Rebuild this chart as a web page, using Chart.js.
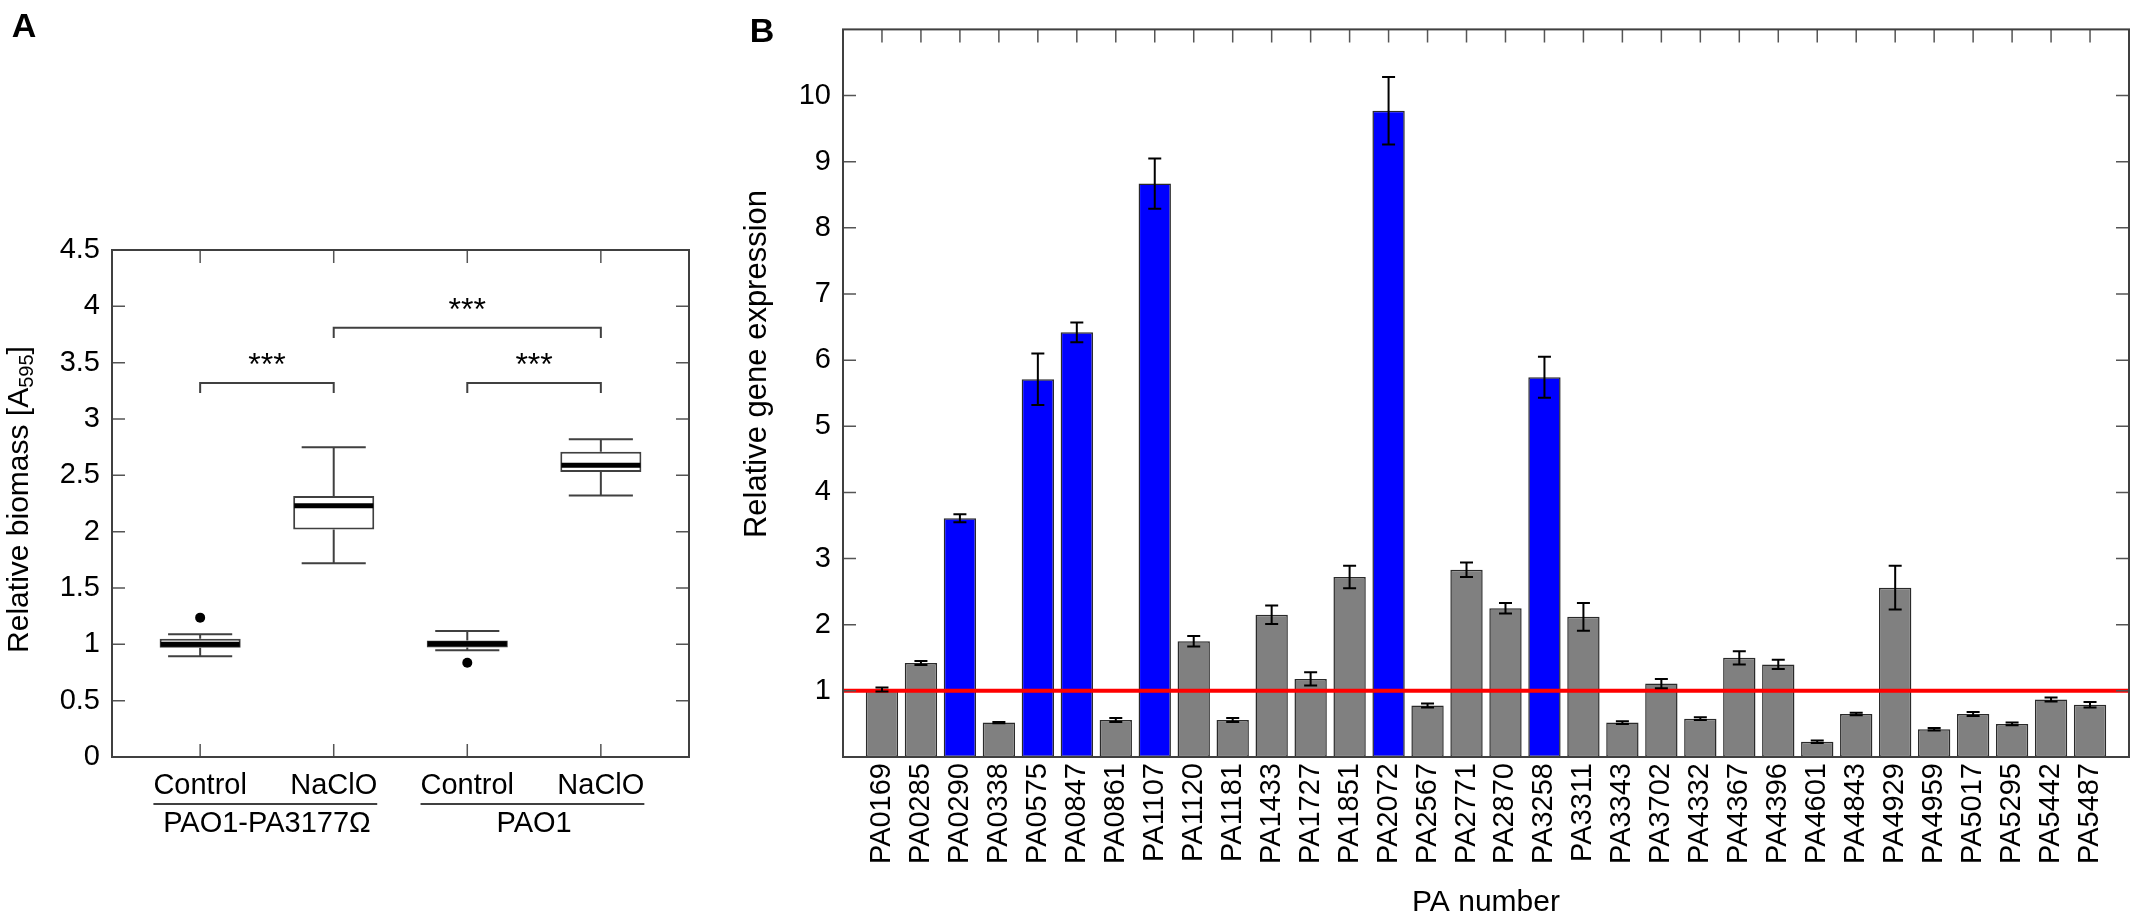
<!DOCTYPE html>
<html>
<head>
<meta charset="utf-8">
<script src="https://cdn.jsdelivr.net/npm/chart.js@4/dist/chart.umd.min.js"></script>
<style>
  html, body { margin: 0; padding: 0; background: #fff; }
  #wrapA { position: absolute; left: 0; top: 0; }
  #wrapB { position: absolute; left: 720px; top: 0; }
</style>
</head>
<body>
<div id="wrapA"><canvas id="chartA" width="720" height="921"></canvas></div>
<div id="wrapB"><canvas id="chartB" width="1416" height="921"></canvas></div>
<script>
const FONT = "'Liberation Sans', Arial, Helvetica, sans-serif";
Chart.defaults.font.family = FONT;
Chart.defaults.font.size = 29;
Chart.defaults.color = "#000";

// panel A - relative biomass, box plots
const boxLabels = ["Control", "NaClO", "Control", "NaClO"];
const strainLabels = ["PAO1-PA3177Ω", "PAO1"];
const boxMin = [0.895, 1.72, 0.947, 2.32];
const boxQ1 = [0.97, 2.02, 0.973, 2.53];
const boxMedian = [1.0, 2.23, 1.005, 2.59];
const boxQ3 = [1.05, 2.317, 1.035, 2.71];
const boxMax = [1.09, 2.75, 1.118, 2.82];
const outlierX = [1, 3];
const outlierY = [1.237, 0.837];
const bracketFrom = [1, 2, 3];
const bracketTo = [2, 4, 4];
const bracketY = [3.32, 3.81, 3.32];
const bracketText = ["***", "***", "***"];
const biomassTicks = [0, 0.5, 1, 1.5, 2, 2.5, 3, 3.5, 4, 4.5];

// panel B - relative gene expression
const genes = ["PA0169", "PA0285", "PA0290", "PA0338", "PA0575", "PA0847", "PA0861", "PA1107",
  "PA1120", "PA1181", "PA1433", "PA1727", "PA1851", "PA2072", "PA2567", "PA2771",
  "PA2870", "PA3258", "PA3311", "PA3343", "PA3702", "PA4332", "PA4367", "PA4396",
  "PA4601", "PA4843", "PA4929", "PA4959", "PA5017", "PA5295", "PA5442", "PA5487"];
const expression = [1.02, 1.42, 3.61, 0.52, 5.71, 6.42, 0.56, 8.67,
  1.75, 0.56, 2.15, 1.18, 2.72, 9.77, 0.78, 2.83,
  2.25, 5.74, 2.12, 0.52, 1.11, 0.58, 1.5, 1.4,
  0.23, 0.65, 2.56, 0.42, 0.65, 0.5, 0.87, 0.79];
const expressionErr = [0.03, 0.03, 0.06, 0.01, 0.39, 0.15, 0.03, 0.38,
  0.08, 0.03, 0.14, 0.1, 0.17, 0.51, 0.03, 0.11,
  0.08, 0.31, 0.21, 0.02, 0.07, 0.02, 0.1, 0.07,
  0.02, 0.02, 0.33, 0.02, 0.03, 0.02, 0.03, 0.04];
const upregulated = ["PA0290", "PA0575", "PA0847", "PA1107", "PA2072", "PA3258"];
const expressionTicks = [1, 2, 3, 4, 5, 6, 7, 8, 9, 10];
const baseline = 1;

// frame with inward ticks on all sides
const frame = {
  id: "frame",
  afterDatasetsDraw(chart, args, opts) {
    const { ctx, chartArea: a, scales: { x, y } } = chart;
    const len = 13;
    ctx.save();
    ctx.strokeStyle = "#555";
    ctx.lineWidth = 1.5;
    ctx.beginPath();
    opts.xTicks.forEach(v => {
      const px = x.getPixelForValue(v);
      ctx.moveTo(px, a.top); ctx.lineTo(px, a.top + len);
      if (opts.bottomTicks) { ctx.moveTo(px, a.bottom); ctx.lineTo(px, a.bottom - len); }
    });
    opts.yTicks.forEach(v => {
      const py = y.getPixelForValue(v);
      ctx.moveTo(a.left, py); ctx.lineTo(a.left + len, py);
      ctx.moveTo(a.right, py); ctx.lineTo(a.right - len, py);
    });
    ctx.stroke();
    ctx.strokeStyle = "#404040";
    ctx.lineWidth = 2;
    ctx.strokeRect(a.left, a.top, a.right - a.left, a.bottom - a.top);
    ctx.restore();
  }
};

// panel letter and optional rotated axis title
const panelText = {
  id: "panelText",
  afterDraw(chart, args, opts) {
    const ctx = chart.ctx;
    ctx.save();
    ctx.fillStyle = "#000";
    ctx.textAlign = "center";
    ctx.textBaseline = "middle";
    ctx.font = "bold 34px " + FONT;
    ctx.fillText(opts.letter, opts.letterX, opts.letterY);
    if (opts.title) {
      ctx.font = "31px " + FONT;
      ctx.translate(opts.titleX, opts.titleY);
      ctx.rotate(-Math.PI / 2);
      ctx.fillText(opts.title, 0, 0);
    }
    ctx.restore();
  }
};

// whiskers, medians, significance brackets and group labels
const boxExtras = {
  id: "boxExtras",
  afterDatasetsDraw(chart) {
    const { ctx, scales: { x, y } } = chart;
    const unit = x.getPixelForValue(2) - x.getPixelForValue(1);
    const boxHalf = unit * 0.607 / 2;
    const capHalf = unit * 0.24;
    ctx.save();
    boxMin.forEach((mn, i) => {
      const cx = x.getPixelForValue(i + 1);
      const yMax = y.getPixelForValue(boxMax[i]);
      const yMin = y.getPixelForValue(mn);
      ctx.strokeStyle = "#404040";
      ctx.lineWidth = 2;
      ctx.beginPath();
      ctx.moveTo(cx, y.getPixelForValue(boxQ3[i])); ctx.lineTo(cx, yMax);
      ctx.moveTo(cx, y.getPixelForValue(boxQ1[i])); ctx.lineTo(cx, yMin);
      ctx.moveTo(cx - capHalf, yMax); ctx.lineTo(cx + capHalf, yMax);
      ctx.moveTo(cx - capHalf, yMin); ctx.lineTo(cx + capHalf, yMin);
      ctx.stroke();
      ctx.strokeStyle = "#000";
      ctx.lineWidth = 5;
      ctx.beginPath();
      const ym = y.getPixelForValue(boxMedian[i]);
      ctx.moveTo(cx - boxHalf + 1, ym); ctx.lineTo(cx + boxHalf - 1, ym);
      ctx.stroke();
    });
    const leg = y.getPixelForValue(0) - y.getPixelForValue(0.09);
    ctx.font = "32px " + FONT;
    ctx.textAlign = "center";
    ctx.textBaseline = "alphabetic";
    ctx.fillStyle = "#000";
    bracketFrom.forEach((f, i) => {
      const x1 = x.getPixelForValue(f), x2 = x.getPixelForValue(bracketTo[i]);
      const yb = y.getPixelForValue(bracketY[i]);
      ctx.strokeStyle = "#404040";
      ctx.lineWidth = 2;
      ctx.beginPath();
      ctx.moveTo(x1, yb + leg); ctx.lineTo(x1, yb); ctx.lineTo(x2, yb); ctx.lineTo(x2, yb + leg);
      ctx.stroke();
      ctx.fillText(bracketText[i], (x1 + x2) / 2, yb - 8);
    });
    ctx.restore();
  },
  afterDraw(chart) {
    const { ctx, chartArea: a, scales: { x } } = chart;
    ctx.save();
    ctx.font = "29px " + FONT;
    ctx.fillStyle = "#000";
    ctx.strokeStyle = "#000";
    ctx.lineWidth = 1.5;
    strainLabels.forEach((s, g) => {
      const x1 = x.getPixelForValue(2 * g + 1), x2 = x.getPixelForValue(2 * g + 2);
      const l = x1 - ctx.measureText(boxLabels[2 * g]).width / 2;
      const r = x2 + ctx.measureText(boxLabels[2 * g + 1]).width / 2;
      ctx.beginPath();
      ctx.moveTo(l, a.bottom + 47); ctx.lineTo(r, a.bottom + 47);
      ctx.stroke();
      ctx.textAlign = "center";
      ctx.textBaseline = "middle";
      ctx.fillText(s, (x1 + x2) / 2, a.bottom + 67);
    });
    // y title with subscript
    const main = "Relative biomass [A", sub = "595", end = "]";
    ctx.font = "30px " + FONT;
    const wMain = ctx.measureText(main).width, wEnd = ctx.measureText(end).width;
    ctx.font = "20px " + FONT;
    const wSub = ctx.measureText(sub).width;
    const total = wMain + wSub + wEnd;
    ctx.translate(20, (a.top + a.bottom) / 2 - 4);
    ctx.rotate(-Math.PI / 2);
    ctx.textAlign = "left";
    ctx.textBaseline = "middle";
    ctx.font = "30px " + FONT;
    ctx.fillText(main, -total / 2, 0);
    ctx.font = "20px " + FONT;
    ctx.fillText(sub, -total / 2 + wMain, 7);
    ctx.font = "30px " + FONT;
    ctx.fillText(end, -total / 2 + wMain + wSub, 0);
    ctx.restore();
  }
};

const errorBars = {
  id: "errorBars",
  afterDatasetsDraw(chart) {
    const { ctx, scales: { x, y } } = chart;
    ctx.save();
    ctx.strokeStyle = "#000";
    ctx.lineWidth = 2;
    ctx.beginPath();
    expression.forEach((v, i) => {
      const px = x.getPixelForValue(i + 1);
      const hi = y.getPixelForValue(v + expressionErr[i]);
      const lo = y.getPixelForValue(v - expressionErr[i]);
      ctx.moveTo(px, hi); ctx.lineTo(px, lo);
      ctx.moveTo(px - 6.5, hi); ctx.lineTo(px + 6.5, hi);
      ctx.moveTo(px - 6.5, lo); ctx.lineTo(px + 6.5, lo);
    });
    ctx.stroke();
    ctx.restore();
  }
};

const hidden = { display: false, drawTicks: false };

new Chart(document.getElementById("chartA"), {
  type: "bar",
  data: {
    datasets: [
      {
        type: "scatter",
        data: outlierX.map((v, i) => ({ x: v, y: outlierY[i] })),
        pointRadius: 5,
        pointBackgroundColor: "#000",
        pointBorderWidth: 0,
        order: 0
      },
      {
        data: boxQ1.map((q, i) => ({ x: i + 1, y: [q, boxQ3[i]] })),
        backgroundColor: "#fff",
        borderColor: "#404040",
        borderWidth: 2,
        borderSkipped: false,
        barPercentage: 0.607,
        categoryPercentage: 1,
        order: 1
      }
    ]
  },
  options: {
    responsive: false,
    animation: false,
    layout: { padding: { top: 250, right: 31, left: 0, bottom: 0 } },
    plugins: {
      legend: { display: false },
      tooltip: { enabled: false },
      frame: { xTicks: [1, 2, 3, 4], yTicks: biomassTicks, bottomTicks: true },
      panelText: { letter: "A", letterX: 24, letterY: 28 }
    },
    scales: {
      x: {
        type: "linear", min: 0.34, max: 4.66, offset: false,
        grid: hidden, border: { display: false },
        afterBuildTicks: s => { s.ticks = boxLabels.map((_, i) => ({ value: i + 1 })); },
        afterFit: s => { s.height = 164; },
        ticks: { autoSkip: false, maxRotation: 0, padding: 12, callback: v => boxLabels[v - 1] }
      },
      y: {
        min: 0, max: 4.5,
        grid: hidden, border: { display: false },
        afterBuildTicks: s => { s.ticks = biomassTicks.map(v => ({ value: v })); },
        afterFit: s => { s.width = 112; },
        ticks: { padding: 12, callback: v => String(v) }
      }
    }
  },
  plugins: [frame, boxExtras, panelText]
});

new Chart(document.getElementById("chartB"), {
  type: "bar",
  data: {
    datasets: [
      {
        type: "line",
        data: [{ x: 0, y: baseline }, { x: genes.length + 1, y: baseline }],
        borderColor: "#ff0000",
        borderWidth: 4,
        pointRadius: 0,
        order: 0
      },
      {
        data: expression.map((v, i) => ({ x: i + 1, y: v })),
        backgroundColor: genes.map(g => upregulated.includes(g) ? "#0000ff" : "#808080"),
        borderColor: "#2a2a2a",
        borderWidth: 1.5,
        borderSkipped: false,
        barPercentage: 0.83,
        categoryPercentage: 1,
        order: 1
      }
    ]
  },
  options: {
    responsive: false,
    animation: false,
    layout: { padding: { top: 6, right: 7, left: 0, bottom: 0 } },
    plugins: {
      legend: { display: false },
      tooltip: { enabled: false },
      frame: { xTicks: genes.map((_, i) => i + 1), yTicks: expressionTicks, bottomTicks: false },
      panelText: { letter: "B", letterX: 42, letterY: 33, title: "Relative gene expression", titleX: 37, titleY: 364 }
    },
    scales: {
      x: {
        type: "linear", min: 0, max: genes.length + 1, offset: false,
        grid: hidden, border: { display: false },
        afterBuildTicks: s => { s.ticks = genes.map((_, i) => ({ value: i + 1 })); },
        afterFit: s => { s.height = 164; },
        ticks: { autoSkip: false, minRotation: 90, maxRotation: 90, padding: 6, callback: v => genes[v - 1] },
        title: { display: true, text: "PA number", font: { size: 30 }, padding: { top: 0, bottom: 0 } }
      },
      y: {
        min: 0, max: 11,
        grid: hidden, border: { display: false },
        afterBuildTicks: s => { s.ticks = expressionTicks.map(v => ({ value: v })); },
        afterFit: s => { s.width = 123; },
        ticks: { padding: 12, callback: v => String(v) }
      }
    }
  },
  plugins: [frame, errorBars, panelText]
});
</script>
</body>
</html>
